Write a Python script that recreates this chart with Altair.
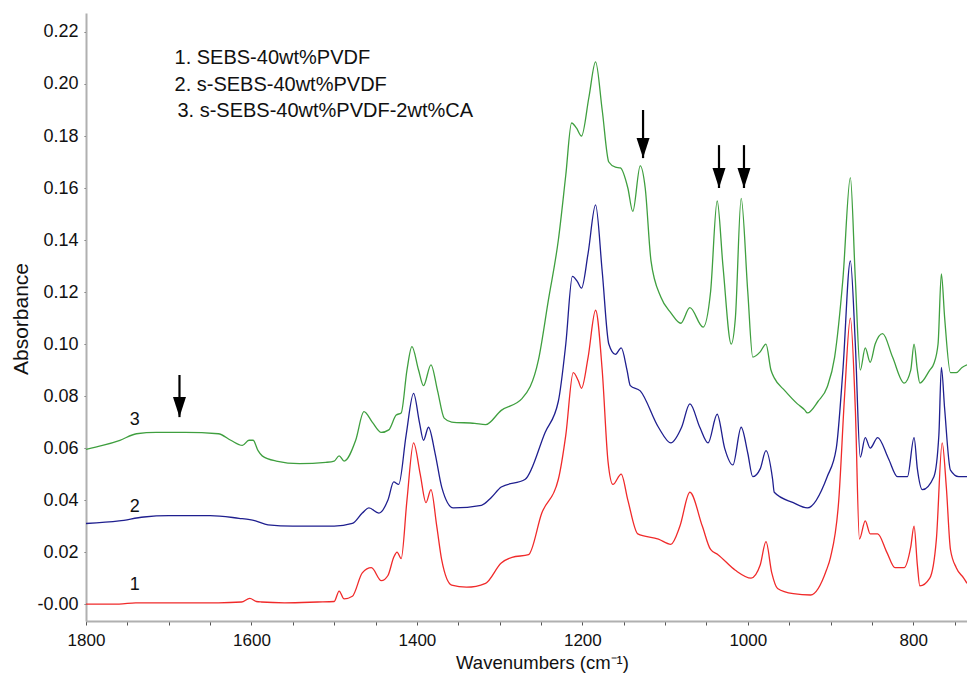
import altair as alt
import pandas as pd

# ---- data ----
red_w = [1800,1760,1740,1700,1640,1612,1602,1594,1588,1560,1520,1500,1494,1488,1478,1466,1455,1443,1435,1428,1424,1419,1412,1404,1396,1389,1383,1376,1370,1358,1340,1317,1298,1285,1265,1249,1229,1220,1211,1205,1201,1193,1184,1176,1169,1163,1153,1145,1133,1108,1093,1082,1070,1055,1045,1036,1015,996,985,978,971,964,945,924,905,900,890,883,876,870,865,858,852,843,832,822,811,803,799,795,792,780,772,765,760,755,748,739,735]
red_v = [0.000,0.000,0.0005,0.0005,0.0005,0.0008,0.0022,0.001,0.0008,0.0005,0.0008,0.001,0.005,0.002,0.003,0.012,0.014,0.009,0.011,0.018,0.020,0.0175,0.040,0.062,0.050,0.039,0.044,0.030,0.017,0.0073,0.0065,0.008,0.0158,0.018,0.019,0.035,0.048,0.065,0.089,0.086,0.083,0.095,0.113,0.090,0.055,0.046,0.050,0.040,0.027,0.025,0.023,0.030,0.043,0.030,0.021,0.019,0.013,0.010,0.015,0.024,0.012,0.006,0.004,0.0035,0.013,0.018,0.040,0.080,0.110,0.075,0.025,0.032,0.027,0.027,0.020,0.014,0.014,0.022,0.030,0.015,0.007,0.010,0.025,0.062,0.045,0.021,0.014,0.010,0.008]

blue_w = [1800,1760,1730,1700,1650,1615,1602,1595,1580,1550,1510,1500,1478,1466,1458,1446,1435,1428,1422,1413,1404,1397,1392,1386,1378,1370,1356,1322,1310,1298,1269,1245,1229,1220,1212,1206,1201,1193,1184,1176,1168,1160,1153,1146,1142,1130,1108,1093,1080,1070,1058,1048,1037,1028,1018,1008,1000,994,985,978,970,968,945,928,904,893,885,876,870,864,858,852,843,830,819,807,799,795,789,775,769,766,762,755,745,735]
blue_v = [0.031,0.032,0.0335,0.034,0.034,0.033,0.0325,0.032,0.0305,0.030,0.030,0.030,0.031,0.035,0.037,0.035,0.040,0.047,0.046,0.065,0.081,0.070,0.063,0.068,0.058,0.045,0.037,0.038,0.041,0.045,0.048,0.066,0.078,0.100,0.126,0.124,0.1215,0.135,0.1535,0.128,0.100,0.096,0.0985,0.090,0.084,0.082,0.068,0.062,0.068,0.077,0.068,0.062,0.073,0.060,0.0535,0.068,0.058,0.049,0.052,0.059,0.048,0.043,0.039,0.037,0.049,0.060,0.090,0.132,0.100,0.0565,0.064,0.060,0.064,0.056,0.049,0.049,0.064,0.052,0.044,0.049,0.065,0.091,0.075,0.0515,0.049,0.049]

green_w = [1800,1780,1759,1739,1715,1680,1640,1625,1611,1603,1598,1592,1587,1570,1542,1510,1500,1494,1488,1474,1464,1454,1443,1434,1425,1419,1412,1406,1398,1392,1383,1375,1367,1358,1330,1317,1298,1273,1253,1241,1229,1220,1213,1207,1201,1192,1184,1176,1168,1160,1154,1145,1139,1130,1124,1117,1105,1093,1081,1070,1054,1045,1037,1030,1020,1015,1008,1000,994,985,978,972,968,955,940,931,928,915,904,895,885,876,870,864,858,852,846,837,825,811,803,799,795,792,780,775,770,766,762,755,748,741,735]
green_v = [0.0595,0.061,0.063,0.0655,0.066,0.066,0.0655,0.063,0.061,0.063,0.063,0.059,0.057,0.055,0.054,0.0545,0.055,0.057,0.055,0.063,0.074,0.070,0.066,0.067,0.0727,0.0735,0.090,0.099,0.090,0.084,0.092,0.082,0.0715,0.070,0.0695,0.069,0.0745,0.079,0.094,0.117,0.140,0.165,0.185,0.183,0.180,0.195,0.2085,0.190,0.170,0.168,0.1677,0.160,0.151,0.1685,0.160,0.132,0.118,0.112,0.108,0.114,0.1065,0.120,0.155,0.130,0.100,0.110,0.156,0.120,0.095,0.097,0.100,0.090,0.087,0.082,0.077,0.0746,0.0735,0.078,0.0835,0.095,0.125,0.164,0.125,0.090,0.0985,0.093,0.100,0.104,0.095,0.085,0.090,0.100,0.090,0.085,0.090,0.0925,0.100,0.127,0.110,0.089,0.089,0.091,0.092]

series_names = ["1", "2", "3"]
series_colors = ["#f02a2a", "#1f1f8f", "#3f9f3f"]

legend_lines = ["1. SEBS-40wt%PVDF", "2. s-SEBS-40wt%PVDF", "3. s-SEBS-40wt%PVDF-2wt%CA"]
legend_w = [1693, 1693, 1689.5]
legend_v = [0.2077, 0.1973, 0.1873]

num_labels = ["1", "2", "3"]
num_w = [1741, 1741, 1741]
num_v = [0.0073, 0.0373, 0.0708]

arrow_w = [1687, 1126.6, 1034.8, 1004.6]
arrow_top = [0.0881, 0.190, 0.1765, 0.1765]
arrow_tip = [0.0719, 0.1715, 0.160, 0.160]

x_ticks = list(range(750, 1801, 50))
y_ticks = [round(i * 0.0025, 4) for i in range(0, 91)]

FONT = "Liberation Sans"

rows = []
for name, ws, vs in [("1", red_w, red_v), ("2", blue_w, blue_v), ("3", green_w, green_v)]:
    for w, v in zip(ws, vs):
        rows.append({"series": name, "w": w, "v": v})
df = pd.DataFrame(rows)

xscale = alt.Scale(domain=[735, 1800], reverse=True, nice=False, zero=False)
yscale = alt.Scale(domain=[-0.0065, 0.2273], nice=False, zero=False)

xaxis = alt.Axis(
    title="Wavenumbers (cm⁻¹)", values=x_ticks,
    labelExpr="datum.value % 200 === 0 ? format(datum.value, 'd') : ''",
    grid=False, domainColor="#b0b0b0", domainWidth=2, tickColor="#555555",
    tickSize=4, labelFont=FONT, labelFontSize=17, labelColor="#111111",
    labelFlush=False, labelPadding=7,
    titleFont=FONT, titleFontSize=18.5, titleFontWeight="normal", titleColor="#111111",
    titleX=456, titleY=47, titleAlign="center", titleBaseline="alphabetic",
)
yaxis = alt.Axis(
    title="Absorbance", values=y_ticks,
    labelExpr="round(datum.value*10000) % 200 === 0 ? (datum.value === 0 ? '-0.00' : format(datum.value, '.2f')) : ''",
    grid=False, domainColor="#b0b0b0", domainWidth=2, tickColor="#666666",
    tickSize=2, labelFont=FONT, labelFontSize=18, labelColor="#111111",
    labelPadding=6, labelFlush=False,
    titleFont=FONT, titleFontSize=21, titleFontWeight="normal", titleColor="#111111",
    titleX=-59, titleY=305.5, titleAngle=270, titleAlign="center", titleBaseline="alphabetic",
)

lines = alt.Chart(df).mark_line(strokeWidth=1.3, interpolate="monotone", clip=True).encode(
    x=alt.X("w:Q", scale=xscale, axis=xaxis),
    y=alt.Y("v:Q", scale=yscale, axis=yaxis),
    color=alt.Color("series:N", scale=alt.Scale(domain=series_names, range=series_colors), legend=None),
    detail="series:N",
)

legend_df = pd.DataFrame({"t": legend_lines, "w": legend_w, "v": legend_v})
legend_text = alt.Chart(legend_df).mark_text(
    align="left", baseline="alphabetic", font=FONT, fontSize=20, color="#111111"
).encode(x=alt.X("w:Q", scale=xscale), y=alt.Y("v:Q", scale=yscale), text="t:N")

num_df = pd.DataFrame({"t": num_labels, "w": num_w, "v": num_v})
num_text = alt.Chart(num_df).mark_text(
    align="center", baseline="middle", font=FONT, fontSize=18, color="#111111"
).encode(x=alt.X("w:Q", scale=xscale), y=alt.Y("v:Q", scale=yscale), text="t:N")

arrow_df = pd.DataFrame({"w": arrow_w, "top": arrow_top, "tip": arrow_tip})
shafts = alt.Chart(arrow_df).mark_rule(color="black", strokeWidth=2.2).encode(
    x=alt.X("w:Q", scale=xscale), y=alt.Y("top:Q", scale=yscale), y2=alt.Y2("tip:Q")
)
heads = alt.Chart(arrow_df).mark_point(
    shape="M-0.65,-1L0.65,-1L0,1Z", filled=True, color="black", size=400,
    opacity=1, yOffset=-10, strokeWidth=0
).encode(x=alt.X("w:Q", scale=xscale), y=alt.Y("tip:Q", scale=yscale))

chart = alt.layer(lines, legend_text, num_text, shafts, heads).properties(
    width=881, height=608,
    autosize=alt.AutoSizeParams(type="none"),
    padding={"left": 86, "top": 13, "right": 0, "bottom": 52},
    background="white",
).configure_view(stroke=None)

chart.save("out.html", embed_options={"renderer": "svg", "actions": False})
